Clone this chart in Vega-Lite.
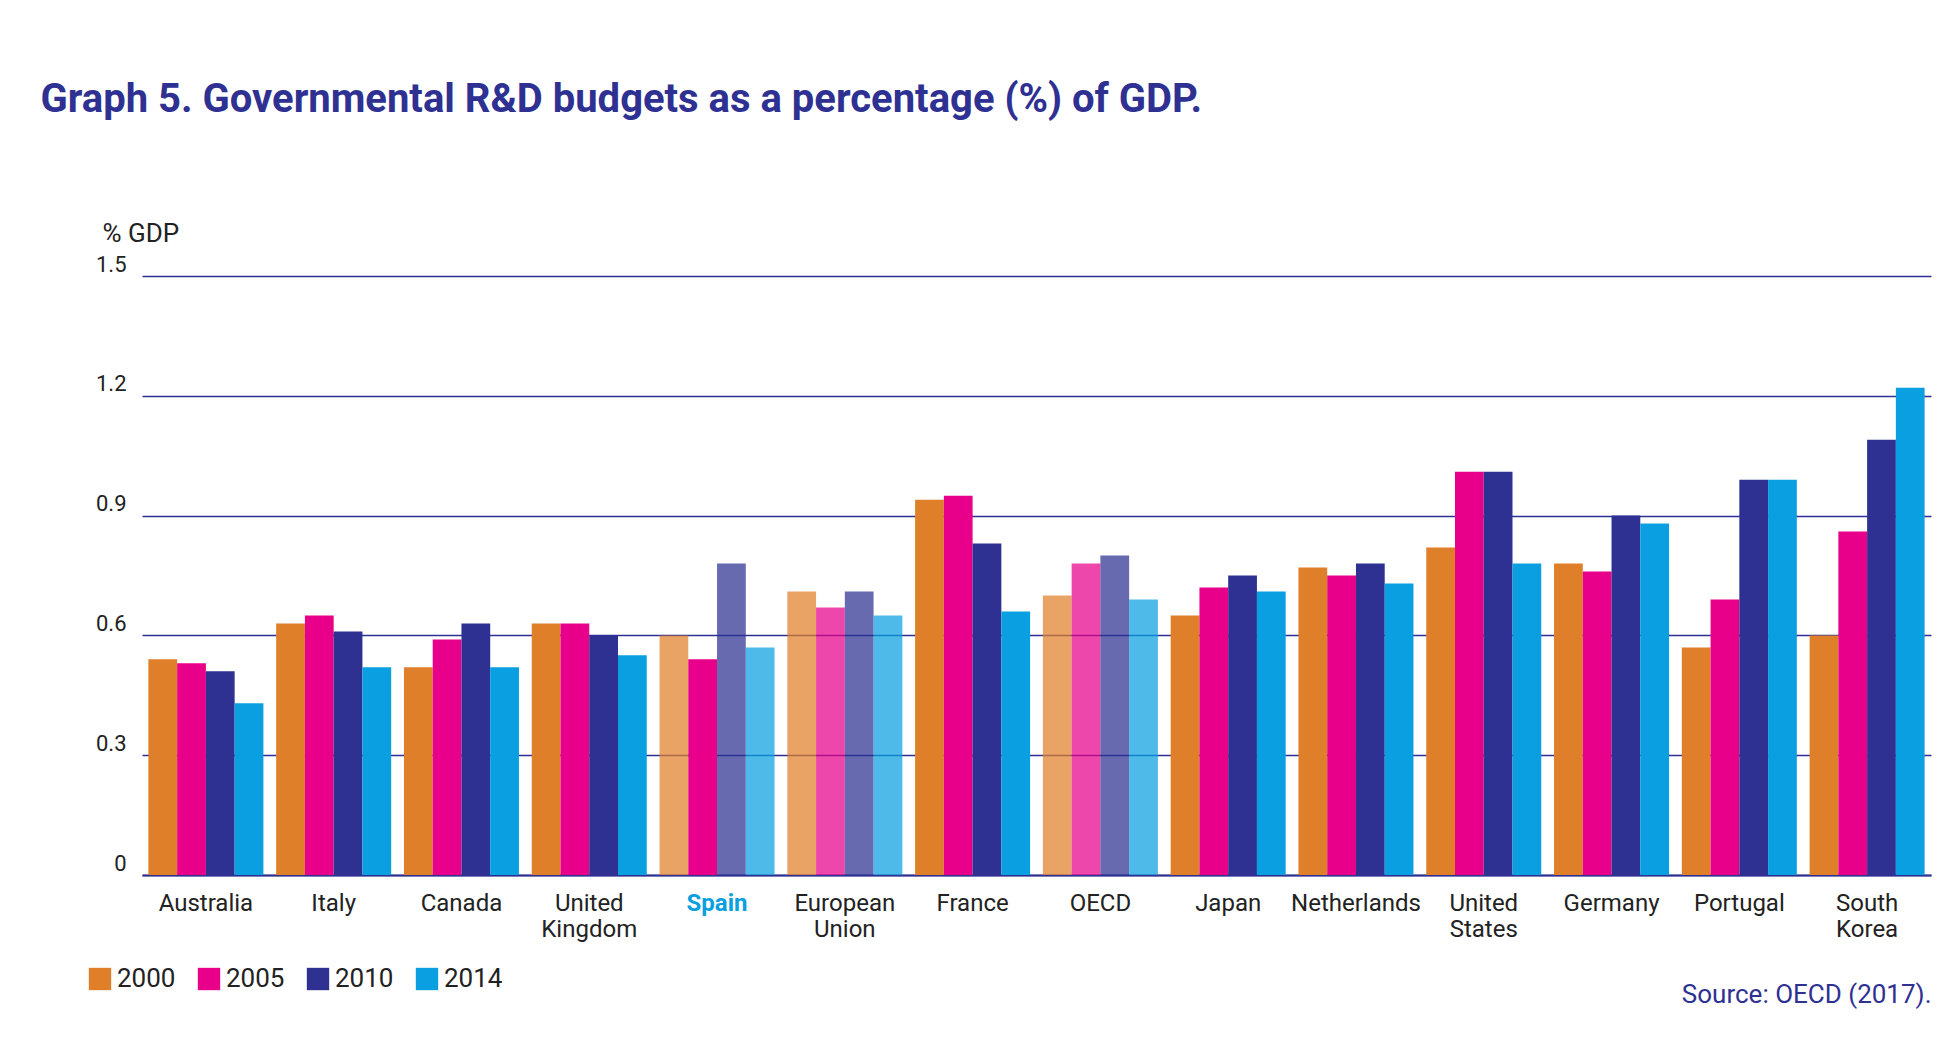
{
  "$schema": "https://vega.github.io/schema/vega-lite/v6.json",
  "width": 1956,
  "height": 1047,
  "autosize": {"type": "fit", "contains": "padding"},
  "padding": {"left": 40, "top": 80, "right": 25, "bottom": 40},
  "background": "white",
  "title": {
    "text": "Graph 5. Governmental R&D budgets as a percentage (%) of GDP.",
    "font": "Roboto",
    "fontWeight": "bold",
    "fontSize": 40,
    "color": "#2e3192",
    "anchor": "start",
    "offset": 100,
    "dx": -55
  },
  "data": {
    "values": [
      {"country": "Australia", "year": "2000", "value": 0.54},
      {"country": "Australia", "year": "2005", "value": 0.53},
      {"country": "Australia", "year": "2010", "value": 0.51},
      {"country": "Australia", "year": "2014", "value": 0.43},
      {"country": "Italy", "year": "2000", "value": 0.63},
      {"country": "Italy", "year": "2005", "value": 0.65},
      {"country": "Italy", "year": "2010", "value": 0.61},
      {"country": "Italy", "year": "2014", "value": 0.52},
      {"country": "Canada", "year": "2000", "value": 0.52},
      {"country": "Canada", "year": "2005", "value": 0.59},
      {"country": "Canada", "year": "2010", "value": 0.63},
      {"country": "Canada", "year": "2014", "value": 0.52},
      {"country": "United Kingdom", "year": "2000", "value": 0.63},
      {"country": "United Kingdom", "year": "2005", "value": 0.63},
      {"country": "United Kingdom", "year": "2010", "value": 0.60},
      {"country": "United Kingdom", "year": "2014", "value": 0.55},
      {"country": "Spain", "year": "2000", "value": 0.60, "hatch": true},
      {"country": "Spain", "year": "2005", "value": 0.54, "hatch": false},
      {"country": "Spain", "year": "2010", "value": 0.78, "hatch": true},
      {"country": "Spain", "year": "2014", "value": 0.57, "hatch": true},
      {"country": "European Union", "year": "2000", "value": 0.71, "hatch": true},
      {"country": "European Union", "year": "2005", "value": 0.67, "hatch": true},
      {"country": "European Union", "year": "2010", "value": 0.71, "hatch": true},
      {"country": "European Union", "year": "2014", "value": 0.65, "hatch": true},
      {"country": "France", "year": "2000", "value": 0.94},
      {"country": "France", "year": "2005", "value": 0.95},
      {"country": "France", "year": "2010", "value": 0.83},
      {"country": "France", "year": "2014", "value": 0.66},
      {"country": "OECD", "year": "2000", "value": 0.70, "hatch": true},
      {"country": "OECD", "year": "2005", "value": 0.78, "hatch": true},
      {"country": "OECD", "year": "2010", "value": 0.80, "hatch": true},
      {"country": "OECD", "year": "2014", "value": 0.69, "hatch": true},
      {"country": "Japan", "year": "2000", "value": 0.65},
      {"country": "Japan", "year": "2005", "value": 0.72},
      {"country": "Japan", "year": "2010", "value": 0.75},
      {"country": "Japan", "year": "2014", "value": 0.71},
      {"country": "Netherlands", "year": "2000", "value": 0.77},
      {"country": "Netherlands", "year": "2005", "value": 0.75},
      {"country": "Netherlands", "year": "2010", "value": 0.78},
      {"country": "Netherlands", "year": "2014", "value": 0.73},
      {"country": "United States", "year": "2000", "value": 0.82},
      {"country": "United States", "year": "2005", "value": 1.01},
      {"country": "United States", "year": "2010", "value": 1.01},
      {"country": "United States", "year": "2014", "value": 0.78},
      {"country": "Germany", "year": "2000", "value": 0.78},
      {"country": "Germany", "year": "2005", "value": 0.76},
      {"country": "Germany", "year": "2010", "value": 0.90},
      {"country": "Germany", "year": "2014", "value": 0.88},
      {"country": "Portugal", "year": "2000", "value": 0.57},
      {"country": "Portugal", "year": "2005", "value": 0.69},
      {"country": "Portugal", "year": "2010", "value": 0.99},
      {"country": "Portugal", "year": "2014", "value": 0.99},
      {"country": "South Korea", "year": "2000", "value": 0.60},
      {"country": "South Korea", "year": "2005", "value": 0.86},
      {"country": "South Korea", "year": "2010", "value": 1.09},
      {"country": "South Korea", "year": "2014", "value": 1.22}
    ]
  },
  "mark": {"type": "bar"},
  "encoding": {
    "x": {
      "field": "country",
      "type": "nominal",
      "sort": null,
      "scale": {"paddingInner": 0.1, "paddingOuter": 0.05},
      "axis": {
        "title": "Source: OECD (2017).",
        "titleAnchor": "end",
        "titleFont": "Roboto",
        "titleFontWeight": "normal",
        "titleFontSize": 26,
        "titleColor": "#2e3192",
        "titlePadding": 40,
        "labelAngle": 0,
        "labelFont": "Roboto",
        "labelFontSize": 24,
        "labelPadding": 16,
        "labelLineHeight": 26,
        "labelExpr": "split(datum.value, ' ')",
        "labelColor": {"condition": {"test": "datum.value === 'Spain'", "value": "#0a9fe0"}, "value": "#222222"},
        "labelFontWeight": {"condition": {"test": "datum.value === 'Spain'", "value": "bold"}, "value": "normal"},
        "ticks": false,
        "domainColor": "#2e3192",
        "domainWidth": 2
      }
    },
    "xOffset": {"field": "year", "type": "nominal"},
    "y": {
      "field": "value",
      "type": "quantitative",
      "scale": {"domain": [0, 1.5]},
      "axis": {
        "values": [0, 0.3, 0.6, 0.9, 1.2, 1.5],
        "labelExpr": "datum.value == 0 ? '0' : format(datum.value, '.1f')",
        "title": "% GDP",
        "titleAngle": 0,
        "titleAlign": "left",
        "titleBaseline": "bottom",
        "titleX": -40,
        "titleY": -30,
        "titleFont": "Roboto",
        "titleFontWeight": "normal",
        "titleFontSize": 26,
        "titleColor": "#222222",
        "labelFont": "Roboto",
        "labelFontSize": 22,
        "labelColor": "#222222",
        "labelPadding": 16,
        "labelBaseline": "bottom",
        "ticks": false,
        "domain": false,
        "gridColor": "#2e3192",
        "gridWidth": 1.5
      }
    },
    "color": {
      "field": "year",
      "type": "nominal",
      "scale": {"domain": ["2000", "2005", "2010", "2014"], "range": ["#e07f2a", "#e8008a", "#2e3192", "#0a9fe0"]},
      "legend": {
        "title": null,
        "orient": "none",
        "direction": "horizontal",
        "legendX": -55,
        "legendY": 690,
        "labelFont": "Roboto",
        "labelFontSize": 26,
        "labelColor": "#222222",
        "symbolType": "square",
        "symbolSize": 500,
        "symbolOpacity": 1,
        "columnPadding": 20
      }
    },
    "fillOpacity": {"condition": {"test": "datum.hatch === true", "value": 0.72}, "value": 1}
  },
  "config": {"view": {"stroke": null}}
}
